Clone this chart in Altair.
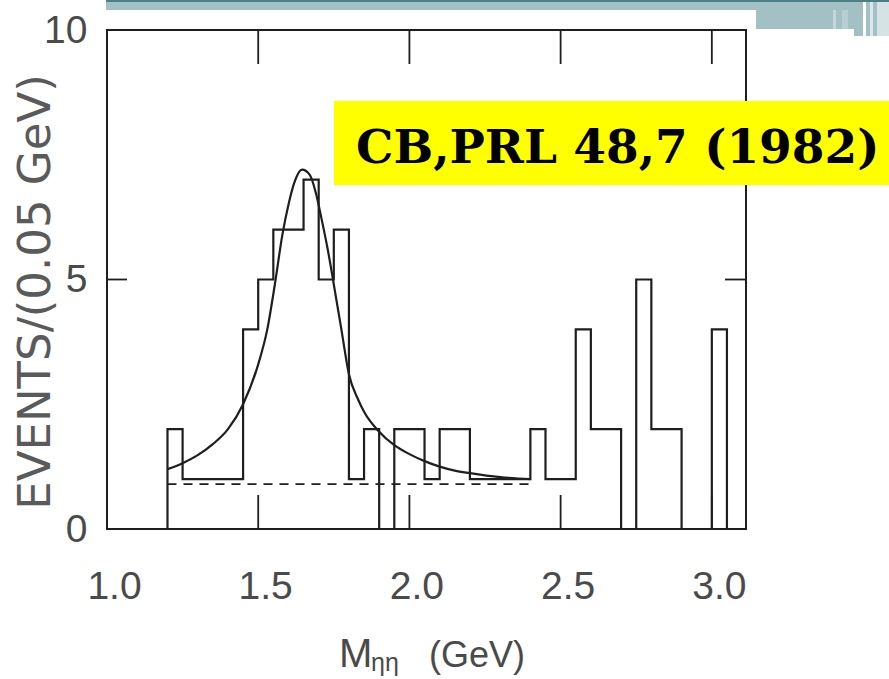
import altair as alt
import pandas as pd

# ---------------- data ----------------
bin_start = [1.20, 1.25, 1.30, 1.35, 1.40, 1.45, 1.50, 1.55, 1.60, 1.65,
             1.70, 1.75, 1.80, 1.85, 1.90, 1.95, 2.00, 2.05, 2.10, 2.15,
             2.20, 2.25, 2.30, 2.35, 2.40, 2.45, 2.50, 2.55, 2.60, 2.65,
             2.70, 2.75, 2.80, 2.85, 2.90, 2.95, 3.00]
counts = [2, 1, 1, 1, 1, 4, 5, 6, 6, 7,
          5, 6, 1, 2, 0, 2, 2, 1, 2, 2,
          1, 1, 1, 1, 2, 1, 1, 4, 2, 2,
          0, 5, 2, 2, 0, 0, 4]
last_edge = 3.05

fit_x = [1.20, 1.25, 1.30, 1.35, 1.40, 1.45, 1.50, 1.53, 1.555, 1.58,
         1.60, 1.62, 1.645, 1.67, 1.69, 1.71, 1.73, 1.75, 1.775, 1.80,
         1.83, 1.85, 1.90, 1.95, 2.00, 2.05, 2.10, 2.15, 2.20, 2.30, 2.40]
fit_y = [1.20, 1.32, 1.48, 1.70, 2.00, 2.50, 3.30, 4.00, 4.90, 5.90,
         6.50, 6.95, 7.20, 7.10, 6.75, 6.20, 5.60, 4.90, 4.00, 3.10,
         2.60, 2.35, 1.95, 1.68, 1.50, 1.36, 1.25, 1.17, 1.12, 1.04, 1.00]

bkg_x = [1.20, 2.40]
bkg_y = [0.9, 0.9]

x_ticks = [1.0, 1.5, 2.0, 2.5, 3.0]
y_ticks = [0, 5, 10]
inner_x_ticks = [1.5, 2.0, 2.5, 3.0]
inner_y_ticks = [5]

x_domain = [1.0, 3.113]
y_domain = [0, 10]

label_text = "CB,PRL 48,7 (1982)"
y_title = "EVENTS/(0.05 GeV)"

# ---------------- tables ----------------
step_x = [bin_start[0]] + bin_start + [last_edge]
step_y = [0] + counts + [0]
hist_df = pd.DataFrame({"m": step_x, "n": step_y, "i": list(range(len(step_x)))})
fit_df = pd.DataFrame({"m": fit_x, "n": fit_y})
bkg_df = pd.DataFrame({"m": bkg_x, "n": bkg_y})
xt_df = pd.DataFrame({"m": inner_x_ticks})
yt_df = pd.DataFrame({"n": inner_y_ticks})
one = pd.DataFrame({"k": [0]})

W, H = 639, 499
INK = "#1e1e1e"
LABEL = "#4a4a4a"
SANS = "Liberation Sans"

xs = alt.Scale(domain=x_domain, nice=False, zero=False)
ys = alt.Scale(domain=y_domain, nice=False, zero=False)

hist = alt.Chart(hist_df).mark_line(
    interpolate="step-after", color=INK, strokeWidth=2.2
).encode(
    x=alt.X("m:Q", scale=xs, axis=alt.Axis(
        values=x_ticks, format=".1f", title=None, grid=False, domain=False,
        ticks=False, tickSize=0, labelFont=SANS, labelFontSize=39,
        labelColor=LABEL, labelPadding=38, labelOffset=7,
        labelOverlap=False, labelFlush=False)),
    y=alt.Y("n:Q", scale=ys, axis=alt.Axis(
        values=y_ticks, format="d", title=None, grid=False, domain=False,
        ticks=False, tickSize=0, labelFont=SANS, labelFontSize=39,
        labelColor=LABEL, labelPadding=20, labelOverlap=False,
        labelFlush=False)),
    order="i:Q",
)

fit = alt.Chart(fit_df).mark_line(
    interpolate="monotone", color=INK, strokeWidth=2.2
).encode(x=alt.X("m:Q", scale=xs), y=alt.Y("n:Q", scale=ys))

bkg = alt.Chart(bkg_df).mark_line(
    color=INK, strokeWidth=1.8, strokeDash=[9, 7]
).encode(x=alt.X("m:Q", scale=xs), y=alt.Y("n:Q", scale=ys))

tick_bottom = alt.Chart(xt_df).mark_rule(color=INK, strokeWidth=1.8).encode(
    x=alt.X("m:Q", scale=xs), y=alt.value(H), y2=alt.value(H - 34))
tick_top = alt.Chart(xt_df).mark_rule(color=INK, strokeWidth=1.8).encode(
    x=alt.X("m:Q", scale=xs), y=alt.value(0), y2=alt.value(34))
tick_left = alt.Chart(yt_df).mark_rule(color=INK, strokeWidth=1.8).encode(
    y=alt.Y("n:Q", scale=ys), x=alt.value(0), x2=alt.value(20))
tick_right = alt.Chart(yt_df).mark_rule(color=INK, strokeWidth=1.8).encode(
    y=alt.Y("n:Q", scale=ys), x=alt.value(W - 21), x2=alt.value(W))

frame = alt.Chart(one).mark_rect(
    fill=None, stroke=INK, strokeWidth=2
).encode(x=alt.value(0), x2=alt.value(W), y=alt.value(0), y2=alt.value(H))

# slide header decoration
def band(x0, x1, y0, y1, color):
    return alt.Chart(one).mark_rect(color=color).encode(
        x=alt.value(x0), x2=alt.value(x1), y=alt.value(y0), y2=alt.value(y1))

TEAL = "#a3c1c4"
header = [
    band(-1, 782, -30, -20, TEAL),
    band(649, 782, -20, -1, TEAL),
    band(726, 729, -20, -1, "#c3d7d9"),
    band(735, 741, -20, -1, "#b7cfd1"),
    band(747, 782, -1, 6, TEAL),
    band(756, 759, -30, 6, "#ffffff"),
    band(763, 766, -30, 6, "#dbe8e9"),
    band(770, 782, -30, 6, "#d5e3e4"),
    band(-1, 782, -30, -28, "#4c8087"),
]

ybox = alt.Chart(one).mark_rect(color="#ffff00").encode(
    x=alt.value(227), x2=alt.value(782), y=alt.value(71), y2=alt.value(155))
ytext = alt.Chart(one).mark_text(
    font="DejaVu Serif", fontWeight="bold", fontSize=47, color="#000000",
    align="left", baseline="alphabetic"
).encode(x=alt.value(249), y=alt.value(133), text=alt.value(label_text))

ytitle = alt.Chart(one).mark_text(
    font="DejaVu Sans", fontSize=45, color="#5a5a5a", angle=270,
    align="center", baseline="middle"
).encode(x=alt.value(-71), y=alt.value(262), text=alt.value(y_title))

xt_m = alt.Chart(one).mark_text(
    font=SANS, fontSize=40, color=LABEL, align="left", baseline="alphabetic"
).encode(x=alt.value(232), y=alt.value(637), text=alt.value("M"))
xt_eta = alt.Chart(one).mark_text(
    font=SANS, fontSize=25, color=LABEL, align="left", baseline="alphabetic"
).encode(x=alt.value(264), y=alt.value(641), text=alt.value("ηη"))
xt_gev = alt.Chart(one).mark_text(
    font=SANS, fontSize=36, color=LABEL, align="left", baseline="alphabetic"
).encode(x=alt.value(322), y=alt.value(637), text=alt.value("(GeV)"))

chart = alt.layer(
    frame, tick_bottom, tick_top, tick_left, tick_right,
    bkg, fit, hist, ybox, ytext, ytitle, xt_m, xt_eta, xt_gev, *header
).properties(
    width=W, height=H, autosize="none",
    padding={"left": 107, "top": 30, "right": 143, "bottom": 150},
    background="#ffffff",
).configure_view(stroke=None)

chart.save("out.html", embed_options={"renderer": "svg", "actions": False})
